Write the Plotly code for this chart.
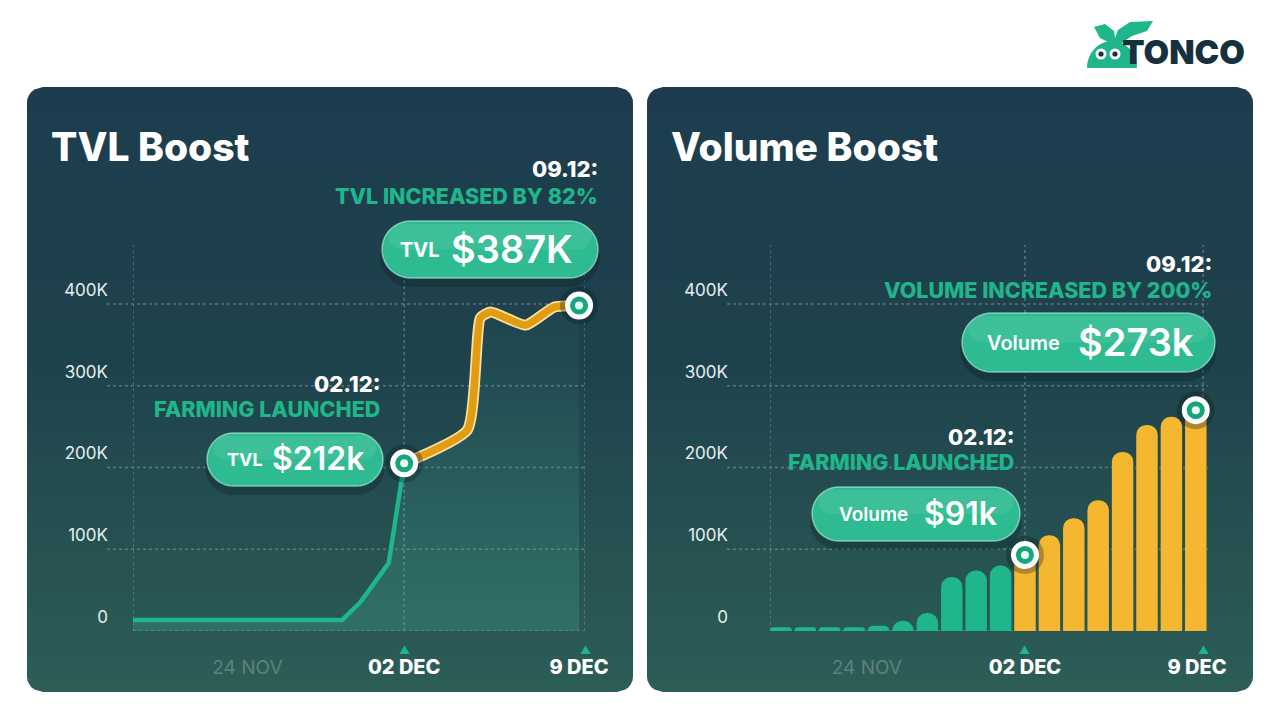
import numpy as np
import plotly.graph_objects as go

W, H = 1280, 720

# ---------------- data ----------------
# TVL (thousand $) by day offset from 02 DEC
tvl_pre_days = [-10.5, -2.4, -1.7, -0.6, 0.0]
tvl_pre_vals = [13.5, 13.5, 35, 83, 205]
tvl_post_days = [0.0, 2.45, 2.95, 3.35, 4.7, 5.8, 6.77]
tvl_post_vals = [205, 246, 383, 390, 374, 396, 398]

# Daily volume (thousand $), day offset from 02 DEC
vol_days = list(range(-10, 8))
vol_vals = [4.5, 4.5, 4.5, 4.5, 6.5, 12.5, 22, 66, 74, 80,
            93, 117, 138, 160, 219, 252, 262, 270]

y_tickvals = [0, 100, 200, 300, 400]
y_ticktext = ["0", "100K", "200K", "300K", "400K"]
tvl_xticks = [-6.07, 0, 6.77]
vol_xticks = [-6.48, 0, 7.05]
x_ticktext = ["24 NOV", "02 DEC", "9 DEC"]

TEAL = "#1fb68c"
GOLD = "#f5b730"
ORANGE = "#e29c14"
FONT = "Inter"


def px(x):
    return x / W


def py(y):
    return 1 - y / H


def rr_points(x0, y0, x1, y1, r, k=12):
    pts = []
    for cx, cy, a0, a1 in [(x1 - r, y0 + r, -90, 0), (x1 - r, y1 - r, 0, 90),
                           (x0 + r, y1 - r, 90, 180), (x0 + r, y0 + r, 180, 270)]:
        for a in np.linspace(np.radians(a0), np.radians(a1), k):
            pts.append((cx + r * np.cos(a), cy + r * np.sin(a)))
    return pts


def path_from(pts):
    return "M " + " L ".join(f"{px(x):.5f},{py(y):.5f}" for x, y in pts) + " Z"


def rr_shape(x0, y0, x1, y1, r, fill, line=None, layer="below"):
    return dict(type="path", path=path_from(rr_points(x0, y0, x1, y1, r)),
                xref="paper", yref="paper", fillcolor=fill,
                line=line or dict(width=0), layer=layer)


def interp(stops, t):
    for (t0, c0), (t1, c1) in zip(stops[:-1], stops[1:]):
        if t0 <= t <= t1:
            f = (t - t0) / (t1 - t0)
            c = [round(a + (b - a) * f) for a, b in zip(c0, c1)]
            return f"rgb({c[0]},{c[1]},{c[2]})"
    c = stops[-1][1]
    return f"rgb({c[0]},{c[1]},{c[2]})"


def panel_shapes(x0, y0, x1, y1, r, stops, n=50):
    def ext(y):
        if y < y0 + r:
            dy = y0 + r - y
        elif y > y1 - r:
            dy = y - (y1 - r)
        else:
            dy = 0
        dy = min(dy, r)
        dx = r - np.sqrt(max(r * r - dy * dy, 0))
        return x0 + dx, x1 - dx
    out = []
    edges = np.linspace(y0, y1, n + 1)
    for i in range(n):
        ya = edges[i]
        yb = min(edges[i + 1] + 1.0, y1)
        ys = np.linspace(ya, yb, 6)
        left = [(ext(y)[0], y) for y in ys]
        right = [(ext(y)[1], y) for y in ys[::-1]]
        out.append(dict(type="path", path=path_from(left + right), xref="paper",
                        yref="paper", fillcolor=interp(stops, (i + 0.5) / n),
                        line=dict(width=0), layer="below"))
    return out


stops = [(0.0, (29, 61, 78)), (0.45, (30, 66, 76)), (1.0, (44, 93, 87))]

shapes = []
shapes += panel_shapes(27, 87, 633, 692, 16, stops)
shapes += panel_shapes(647, 87, 1253, 692, 16, stops)

GRID = "rgba(150,180,185,0.45)"
# horizontal gridlines
for (xl, xr, yref) in [(107, 585, "y"), (727, 1208, "y2")]:
    for v in y_tickvals:
        x_start = xl if v > 0 else (133 if yref == "y" else 770)
        shapes.append(dict(type="line", xref="paper", yref=yref, x0=px(x_start), x1=px(xr),
                           y0=v * 1000, y1=v * 1000, layer="below",
                           line=dict(color=GRID, width=1.5, dash="dot")))
# vertical gridlines
for xv in [-10.5, 0, 7]:
    shapes.append(dict(type="line", xref="x", yref="y", x0=xv, x1=xv, y0=0, y1=472000,
                       layer="below", line=dict(color=GRID, width=1.5, dash="dot")))
for xv in [-10.45, 0, 7.3]:
    shapes.append(dict(type="line", xref="x2", yref="y2", x0=xv, x1=xv, y0=0, y1=472000,
                       layer="below", line=dict(color=GRID, width=1.5, dash="dot")))

# pills
PILL_LINE = dict(color="rgba(200,255,235,0.55)", width=1.5)
pills = [(382, 221, 598, 278), (207, 433, 383, 486), (962, 313, 1215, 372), (812, 487, 1020, 541)]
for (x0, y0, x1, y1) in pills:
    r = (y1 - y0) / 2
    shapes.append(rr_shape(x0 - 2, y0 + 6, x1 + 2, y1 + 9, r + 2, "rgba(8,30,35,0.30)", layer="above"))
    shapes.append(rr_shape(x0, y0, x1, y1, r, "#2fbb92", PILL_LINE, layer="above"))
    shapes.append(rr_shape(x0 + 6, y0 + 3, x1 - 6, y0 + (y1 - y0) * 0.5, r * 0.5,
                           "rgba(255,255,255,0.07)", layer="above"))

# logo shapes
shapes.append(dict(type="path", xref="paper", yref="paper", fillcolor=TEAL, line=dict(width=0),
                   path=path_from([(1087 + 50 * (1 - np.cos(a)) / 2, 68 - 27 * np.sin(a))
                                   for a in np.linspace(0, np.pi, 30)])))
shapes.append(dict(type="path", xref="paper", yref="paper", fillcolor=TEAL, line=dict(width=0),
                   path=path_from([(1112, 44), (1100, 38), (1094, 27), (1105, 24), (1114, 31), (1116, 44)])))
shapes.append(dict(type="path", xref="paper", yref="paper", fillcolor=TEAL, line=dict(width=0),
                   path=path_from([(1113, 44), (1118, 30), (1130, 22), (1153, 21), (1147, 31), (1132, 36), (1120, 44)])))
for cx, cy in [(1101, 54), (1115, 54)]:
    shapes.append(dict(type="circle", xref="paper", yref="paper", x0=px(cx - 5.5), x1=px(cx + 5.5),
                       y0=py(cy + 5.5), y1=py(cy - 5.5), fillcolor="white", line=dict(width=0)))
    shapes.append(dict(type="circle", xref="paper", yref="paper", x0=px(cx - 2.6), x1=px(cx + 2.6),
                       y0=py(cy + 2.6), y1=py(cy - 2.6), fillcolor="#15313d", line=dict(width=0)))

fig = go.Figure()

# ---- TVL panel ----
all_x = tvl_pre_days + tvl_post_days[1:]
all_y = [v * 1000 for v in tvl_pre_vals + tvl_post_vals[1:]]
fig.add_trace(go.Scatter(x=all_x, y=all_y, mode="lines", line=dict(width=0), fill="tozeroy",
                         fillgradient=dict(type="vertical",
                                           colorscale=[[0, "rgba(70,185,160,0.24)"],
                                                       [1, "rgba(70,185,160,0.03)"]]),
                         hoverinfo="skip", xaxis="x", yaxis="y"))
fig.add_trace(go.Scatter(x=tvl_pre_days, y=[v * 1000 for v in tvl_pre_vals], mode="lines",
                         line=dict(color=TEAL, width=4.5), xaxis="x", yaxis="y"))
post_y = [v * 1000 for v in tvl_post_vals]
fig.add_trace(go.Scatter(x=tvl_post_days, y=post_y, mode="lines",
                         line=dict(color="#fbe1a0", width=11, shape="spline", smoothing=0.5),
                         xaxis="x", yaxis="y"))
fig.add_trace(go.Scatter(x=tvl_post_days, y=post_y, mode="lines",
                         line=dict(color=ORANGE, width=7.5, shape="spline", smoothing=0.5),
                         xaxis="x", yaxis="y"))

mk_x = [tvl_post_days[0], tvl_post_days[-1]]
mk_y = [post_y[0], post_y[-1]]

# ---- Volume panel ----
bar_colors = [TEAL if d < 0 else GOLD for d in vol_days]
fig.add_trace(go.Bar(x=vol_days, y=[v * 1000 for v in vol_vals], width=0.88,
                     marker=dict(color=bar_colors, line=dict(width=0), cornerradius=11),
                     xaxis="x2", yaxis="y2"))
vm_x = [0, vol_days[-1]]
vm_y = [vol_vals[vol_days.index(0)] * 1000, vol_vals[-1] * 1000]

for xs, ys, xa, ya in [(mk_x, mk_y, "x", "y"), (vm_x, vm_y, "x2", "y2")]:
    fig.add_trace(go.Scatter(x=xs, y=ys, mode="markers", cliponaxis=False,
                             marker=dict(size=38, color="rgba(5,25,30,0.30)"), xaxis=xa, yaxis=ya))
    fig.add_trace(go.Scatter(x=xs, y=ys, mode="markers", cliponaxis=False,
                             marker=dict(size=23, color="#17a57e", line=dict(color="white", width=5)),
                             xaxis=xa, yaxis=ya))
    fig.add_trace(go.Scatter(x=xs, y=ys, mode="markers", cliponaxis=False,
                             marker=dict(size=8, color="#eafaf4"), xaxis=xa, yaxis=ya))

# ---- annotations ----
ann = []


def txt(text, x, y, size, color="white", weight=700, anchor="right"):
    ann.append(dict(text=text, x=px(x), y=py(y), xref="paper", yref="paper", showarrow=False,
                    xanchor=anchor, yanchor="middle",
                    font=dict(family=FONT, size=size, color=color, weight=weight)))


txt("TVL Boost", 49, 147, 39, anchor="left", weight=800)
txt("Volume Boost", 669, 147, 39, anchor="left", weight=800)

txt("09.12:", 600, 169, 22, weight=800)
txt("TVL INCREASED BY 82%", 600, 196, 21.5, color=TEAL, weight=800)
txt("02.12:", 382, 384, 22, weight=800)
txt("FARMING LAUNCHED", 382, 409, 21.5, color=TEAL, weight=800)
txt("09.12:", 1214, 264, 22, weight=800)
txt("VOLUME INCREASED BY 200%", 1214, 290, 21.5, color=TEAL, weight=800)
txt("02.12:", 1016, 437, 22, weight=800)
txt("FARMING LAUNCHED", 1016, 462, 21.5, color=TEAL, weight=800)

txt("TVL", 420, 250, 20, anchor="center", weight=700)
txt("$387K", 512, 249, 38, anchor="center", weight=600)
txt("TVL", 245, 460, 18, anchor="center", weight=700)
txt("$212k", 318, 459, 32, anchor="center", weight=600)
txt("Volume", 1023, 343, 20, anchor="center", weight=600)
txt("$273k", 1136, 342, 38, anchor="center", weight=600)
txt("Volume", 873, 514, 19, anchor="center", weight=600)
txt("$91k", 960, 513, 32, anchor="center", weight=600)

txt("TONCO", 1247, 52, 33, color="#15313d", anchor="right", weight=900)

for xv, xa in [(0, "x"), (7, "x"), (0, "x2"), (7.3, "x2")]:
    ann.append(dict(text="▲", x=xv, y=py(650), xref=xa, yref="paper", showarrow=False,
                    xanchor="center", yanchor="middle", font=dict(size=11, color=TEAL)))

xt_text = [f"<span style='color:#5f817c;font-weight:400'>{x_ticktext[0]}</span>",
           f"<span style='font-size:20px;font-weight:800'>{x_ticktext[1]}</span>",
           f"<span style='font-size:20px;font-weight:800'>{x_ticktext[2]}</span>"]

yax = dict(range=[0, 472000], showgrid=False, zeroline=False, showline=False, ticks="",
           tickvals=[v * 1000 for v in y_tickvals], ticktext=y_ticktext, automargin=False,
           tickfont=dict(family=FONT, size=17, color="#e6efef"), ticklabelshift=-14,
           domain=[py(631), py(245)], fixedrange=True)
xax = dict(showgrid=False, zeroline=False, showline=False, ticks="", automargin=False,
           tickfont=dict(family=FONT, size=19, color="white"), ticklabelstandoff=23,
           fixedrange=True)

fig.update_layout(
    width=W, height=H, margin=dict(l=0, r=0, t=0, b=0, pad=0, autoexpand=False),
    paper_bgcolor="white", plot_bgcolor="rgba(0,0,0,0)",
    showlegend=False, bargap=0.1,
    font=dict(family=FONT),
    xaxis=dict(xax, domain=[px(133), px(585)], range=[-10.5, 7], tickvals=tvl_xticks,
               ticktext=xt_text, anchor="y"),
    yaxis=dict(yax, anchor="x", ticklabelstandoff=24),
    xaxis2=dict(xax, domain=[px(770), px(1208)], range=[-10.45, 7.5], tickvals=vol_xticks,
                ticktext=xt_text, anchor="y2"),
    yaxis2=dict(yax, anchor="x2", ticklabelstandoff=41),
    shapes=shapes, annotations=ann,
)

fig.write_html("out.html", config=dict(displayModeBar=False),
               post_script="document.body.style.margin='0';document.body.style.overflow='hidden';")
